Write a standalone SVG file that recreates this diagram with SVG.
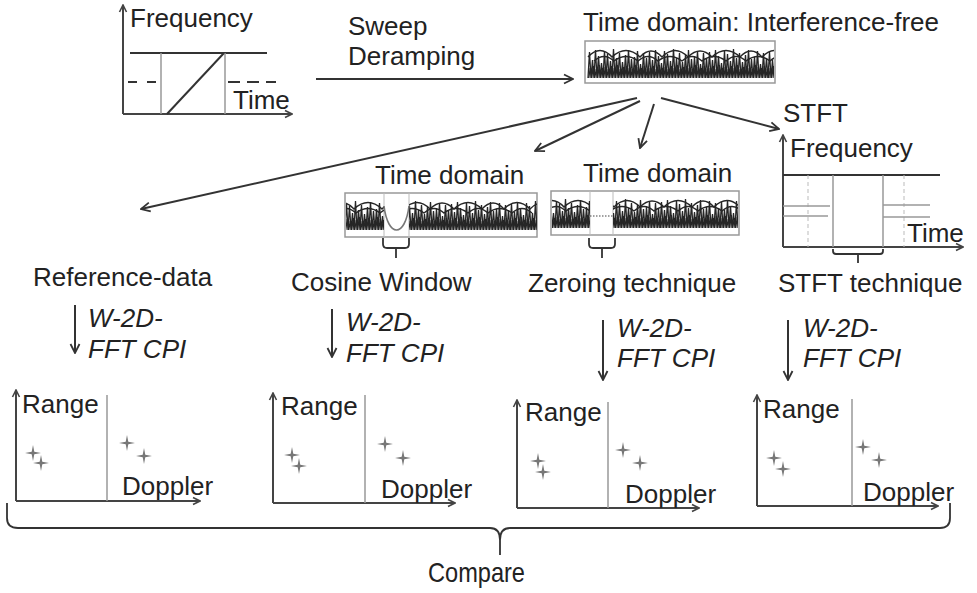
<svg xmlns="http://www.w3.org/2000/svg" width="977" height="593" viewBox="0 0 977 593">
  <style>
    .t { font-family: "Liberation Sans", Arial, sans-serif; font-size: 26px; fill: #222; }
    .it { font-style: italic; }
    .big { font-size: 28px; }
    .dk { stroke: #333; stroke-width: 2; fill: none; }
    .ax { stroke: #444; stroke-width: 2; fill: none; }
    .gr { stroke: #999; stroke-width: 1.5; fill: none; }
    .lg { stroke: #bbb; stroke-width: 1; fill: none; }
    .box { stroke: #999; stroke-width: 1.5; fill: #fff; }
    .wv { stroke: #262626; stroke-width: 1.3; fill: none; }
    .arc { stroke: #262626; stroke-width: 1.4; fill: none; }
    .con { stroke: #333; stroke-width: 2; fill: none; }
    .brk { stroke: #333; stroke-width: 1.8; fill: none; }
  </style>
  <defs>
    <marker id="ah" viewBox="0 0 12 12" refX="11" refY="6" markerWidth="12" markerHeight="12" markerUnits="userSpaceOnUse" orient="auto">
      <path d="M2,1.5 L11,6 L2,10.5" fill="none" stroke="#333" stroke-width="1.8"/>
    </marker>
    <marker id="axh" viewBox="0 0 10 10" refX="9" refY="5" markerWidth="10" markerHeight="10" markerUnits="userSpaceOnUse" orient="auto">
      <path d="M2,1.5 L9,5 L2,8.5" fill="none" stroke="#444" stroke-width="1.6"/>
    </marker>
    <!-- one 60px stretch of the beat signal: dense spikes plus a low comb -->
    <g id="seg">
      <path class="wv" d="M0,32 l1.5,-26 1.5,26 1.5,-18 1.5,18 1.5,-28 1.5,28 1.5,-22 1.5,22 1.5,-15 1.5,15 1.5,-27 1.5,27 1.5,-24 1.5,24 1.5,-17 1.5,17 1.5,-29 1.5,29 1.5,-20 1.5,20 1.5,-25 1.5,25 1.5,-16 1.5,16 1.5,-23 1.5,23 1.5,-28 1.5,28 1.5,-19 1.5,19 1.5,-21 1.5,21 1.5,-27 1.5,27 1.5,-14 1.5,14 1.5,-25 1.5,25 1.5,-20 1.5,20"/>
      <path class="wv" d="M0.75,32 l1.5,-10 1.5,10 1.5,-12 1.5,12 1.5,-9 1.5,9 1.5,-13 1.5,13 1.5,-10 1.5,10 1.5,-11 1.5,11 1.5,-9 1.5,9 1.5,-12 1.5,12 1.5,-10 1.5,10 1.5,-13 1.5,13 1.5,-9 1.5,9 1.5,-11 1.5,11 1.5,-12 1.5,12 1.5,-10 1.5,10 1.5,-9 1.5,9 1.5,-13 1.5,13 1.5,-11 1.5,11 1.5,-10 1.5,10 1.5,-12 1.5,12 1.5,-9 1.5,9"/>
    </g>
    <g id="strip">
      <use href="#seg"/>
      <use href="#seg" x="60"/>
      <use href="#seg" x="120"/>
      <use href="#seg" x="180"/>
      <path class="arc" d="M0,11 q12,-13 24,0 q14,-13 28,0 q11,-12 22,0 q13,-13 26,0 q12,-12 24,0 q14,-13 28,0 q11,-12 22,0 q13,-13 26,0 q12,-12 24,0 q10,-12 20,0"/>
      <path class="arc" d="M6,15 q10,-9 20,0 q12,-9 24,0 q10,-9 20,0 q12,-9 24,0 q10,-9 20,0 q12,-9 24,0 q10,-9 20,0 q12,-9 24,0 q10,-9 20,0"/>
    </g>
    <path id="star" d="M0,-8 L1.3,-1.3 L8,0 L1.3,1.3 L0,8 L-1.3,1.3 L-8,0 L-1.3,-1.3 Z" fill="#777"/>
    <clipPath id="clipFree"><rect x="586" y="42" width="188" height="40"/></clipPath>
    <clipPath id="clipCos"><rect x="346" y="194" width="38" height="42"/><rect x="409" y="194" width="128" height="42"/></clipPath>
    <clipPath id="clipZero"><rect x="552" y="192" width="38" height="42"/><rect x="613" y="192" width="125" height="42"/></clipPath>
  </defs>

  <rect width="977" height="593" fill="#fff"/>

  <!-- linear FM sweep: frequency over time -->
  <g id="sweep-plot">
    <line class="ax" x1="123" y1="114" x2="123" y2="5" marker-end="url(#axh)"/>
    <line class="ax" x1="123" y1="114" x2="292" y2="114" marker-end="url(#axh)"/>
    <line class="dk" x1="130" y1="53" x2="267" y2="53"/>
    <line class="gr" x1="161" y1="53" x2="161" y2="114"/>
    <line class="gr" x1="225" y1="53" x2="225" y2="114"/>
    <line class="dk" x1="167" y1="114" x2="224" y2="53"/>
    <path class="dk" d="M128,82 H157" stroke-dasharray="9,10"/>
    <path class="dk" d="M228,82 H276" stroke-dasharray="12,7"/>
    <text class="t" x="130" y="27">Frequency</text>
    <text class="t" x="233" y="109">Time</text>
  </g>

  <g id="deramp-label">
    <text class="t" x="348" y="35">Sweep</text>
    <text class="t" x="348" y="65">Deramping</text>
  </g>

  <!-- interference-free beat signal -->
  <g id="time-free">
    <text class="t" x="583" y="31">Time domain: Interference-free</text>
    <rect class="box" x="585" y="41" width="190" height="42"/>
    <g clip-path="url(#clipFree)"><use href="#strip" transform="translate(588,46)"/></g>
  </g>

  <!-- cosine-windowed signal -->
  <g id="time-cosine">
    <text class="t" x="375" y="184">Time domain</text>
    <rect class="box" x="345" y="193" width="192" height="44"/>
    <line class="lg" x1="384" y1="193" x2="384" y2="237"/>
    <line class="lg" x1="409" y1="193" x2="409" y2="237"/>
    <g clip-path="url(#clipCos)"><use href="#strip" transform="translate(330,198)"/></g>
    <path d="M384,206 C388,238 405,238 409,206" stroke="#777" stroke-width="1.6" fill="none"/>
    <path class="brk" d="M383,238 V244 Q383,248 387,248 H405 Q409,248 409,244 V238 M396,248 V258"/>
  </g>

  <!-- zeroed signal -->
  <g id="time-zero">
    <text class="t" x="583" y="182">Time domain</text>
    <rect class="box" x="551" y="191" width="188" height="44"/>
    <line class="lg" x1="590" y1="191" x2="590" y2="235"/>
    <line class="lg" x1="613" y1="191" x2="613" y2="235"/>
    <g clip-path="url(#clipZero)"><use href="#strip" transform="translate(540,196)"/></g>
    <path d="M590,216 H613" stroke="#444" stroke-width="1.2" stroke-dasharray="1.5,1.5"/>
    <path class="brk" d="M589,238 V244 Q589,248 593,248 H611 Q615,248 615,244 V238 M602,248 V258"/>
  </g>

  <!-- STFT time-frequency plane -->
  <g id="stft-plot">
    <text class="t" x="783" y="122">STFT</text>
    <line class="ax" x1="783" y1="247" x2="783" y2="135" marker-end="url(#axh)"/>
    <line class="ax" x1="783" y1="247" x2="963" y2="247" marker-end="url(#axh)"/>
    <line class="dk" x1="783" y1="175" x2="940" y2="175"/>
    <line class="gr" x1="833" y1="175" x2="833" y2="247" stroke="#777"/>
    <line class="gr" x1="883" y1="175" x2="883" y2="247" stroke="#777"/>
    <line class="lg" x1="808" y1="175" x2="808" y2="247" stroke-dasharray="4,3"/>
    <line class="lg" x1="904" y1="175" x2="904" y2="247" stroke-dasharray="4,3"/>
    <line class="gr" x1="783" y1="206" x2="830" y2="206"/>
    <line class="gr" x1="783" y1="216" x2="828" y2="216" stroke="#888"/>
    <line class="gr" x1="883" y1="205" x2="930" y2="205" stroke="#888"/>
    <line class="gr" x1="883" y1="217" x2="930" y2="217"/>
    <text class="t" x="790" y="157">Frequency</text>
    <text class="t" x="907" y="242">Time</text>
    <path class="brk" d="M833,249 V251 Q833,254 836,254 H880 Q883,254 883,251 V249 M858,254 V263"/>
  </g>

  <!-- method labels -->
  <g id="label-reference"><text class="t" x="33" y="286">Reference-data</text></g>
  <g id="label-cosine"><text class="t" x="291" y="291">Cosine Window</text></g>
  <g id="label-zeroing"><text class="t" x="528" y="292">Zeroing technique</text></g>
  <g id="label-stft"><text class="t" x="778" y="292">STFT technique</text></g>

  <g id="fft-labels">
    <text class="t it" x="88" y="327">W-2D-</text>
    <text class="t it" x="88" y="358">FFT CPI</text>
    <text class="t it" x="346" y="331">W-2D-</text>
    <text class="t it" x="346" y="362">FFT CPI</text>
    <text class="t it" x="617" y="337">W-2D-</text>
    <text class="t it" x="617" y="367">FFT CPI</text>
    <text class="t it" x="803" y="337">W-2D-</text>
    <text class="t it" x="803" y="367">FFT CPI</text>
  </g>

  <!-- range-Doppler maps -->
  <g id="rd-reference">
    <line class="ax" x1="16" y1="501" x2="16" y2="390" marker-end="url(#axh)"/>
    <line class="ax" x1="16" y1="501" x2="200" y2="501" marker-end="url(#axh)"/>
    <line class="gr" x1="107" y1="395" x2="107" y2="501"/>
    <text class="t" x="22" y="413">Range</text>
    <text class="t" x="122" y="495">Doppler</text>
    <use href="#star" x="33" y="453"/><use href="#star" x="41" y="463"/>
    <use href="#star" x="127" y="443"/><use href="#star" x="144" y="456"/>
  </g>
  <g id="rd-cosine">
    <line class="ax" x1="273" y1="503" x2="273" y2="393" marker-end="url(#axh)"/>
    <line class="ax" x1="273" y1="503" x2="455" y2="503" marker-end="url(#axh)"/>
    <line class="gr" x1="365" y1="395" x2="365" y2="503"/>
    <text class="t" x="281" y="415">Range</text>
    <text class="t" x="381" y="498">Doppler</text>
    <use href="#star" x="292" y="455"/><use href="#star" x="299" y="466"/>
    <use href="#star" x="385" y="444"/><use href="#star" x="403" y="458"/>
  </g>
  <g id="rd-zeroing">
    <line class="ax" x1="517" y1="508" x2="517" y2="400" marker-end="url(#axh)"/>
    <line class="ax" x1="517" y1="508" x2="699" y2="508" marker-end="url(#axh)"/>
    <line class="gr" x1="608" y1="402" x2="608" y2="508"/>
    <text class="t" x="525" y="421">Range</text>
    <text class="t" x="625" y="503">Doppler</text>
    <use href="#star" x="538" y="461"/><use href="#star" x="543" y="472"/>
    <use href="#star" x="623" y="450"/><use href="#star" x="640" y="463"/>
  </g>
  <g id="rd-stft">
    <line class="ax" x1="757" y1="506" x2="757" y2="395" marker-end="url(#axh)"/>
    <line class="ax" x1="757" y1="506" x2="938" y2="506" marker-end="url(#axh)"/>
    <line class="gr" x1="852" y1="399" x2="852" y2="506"/>
    <text class="t" x="763" y="418">Range</text>
    <text class="t" x="863" y="501">Doppler</text>
    <use href="#star" x="774" y="458"/><use href="#star" x="783" y="469"/>
    <use href="#star" x="863" y="447"/><use href="#star" x="879" y="460"/>
  </g>

  <g id="compare">
    <path class="brk" d="M7,503 V518 Q7,528 18,528 H490 Q500,528 500,540 V555 M500,540 Q500,528 510,528 H940 Q950,528 950,518 V503"/>
    <text class="t big" x="428" y="582" textLength="97" lengthAdjust="spacingAndGlyphs">Compare</text>
  </g>

  <!-- connectors -->
  <g id="connectors">
    <line class="con" x1="316" y1="79" x2="573" y2="79" marker-end="url(#ah)"/>
    <line class="con" x1="637" y1="98" x2="141" y2="209" marker-end="url(#ah)"/>
    <line class="con" x1="640" y1="101" x2="535" y2="151" marker-end="url(#ah)"/>
    <line class="con" x1="654" y1="104" x2="640" y2="148" marker-end="url(#ah)"/>
    <line class="con" x1="661" y1="98" x2="779" y2="129" marker-end="url(#ah)"/>
    <line class="con" x1="75" y1="305" x2="75" y2="353" marker-end="url(#ah)"/>
    <line class="con" x1="332" y1="309" x2="332" y2="357" marker-end="url(#ah)"/>
    <line class="con" x1="603" y1="320" x2="603" y2="380" marker-end="url(#ah)"/>
    <line class="con" x1="788" y1="320" x2="788" y2="380" marker-end="url(#ah)"/>
  </g>
</svg>
